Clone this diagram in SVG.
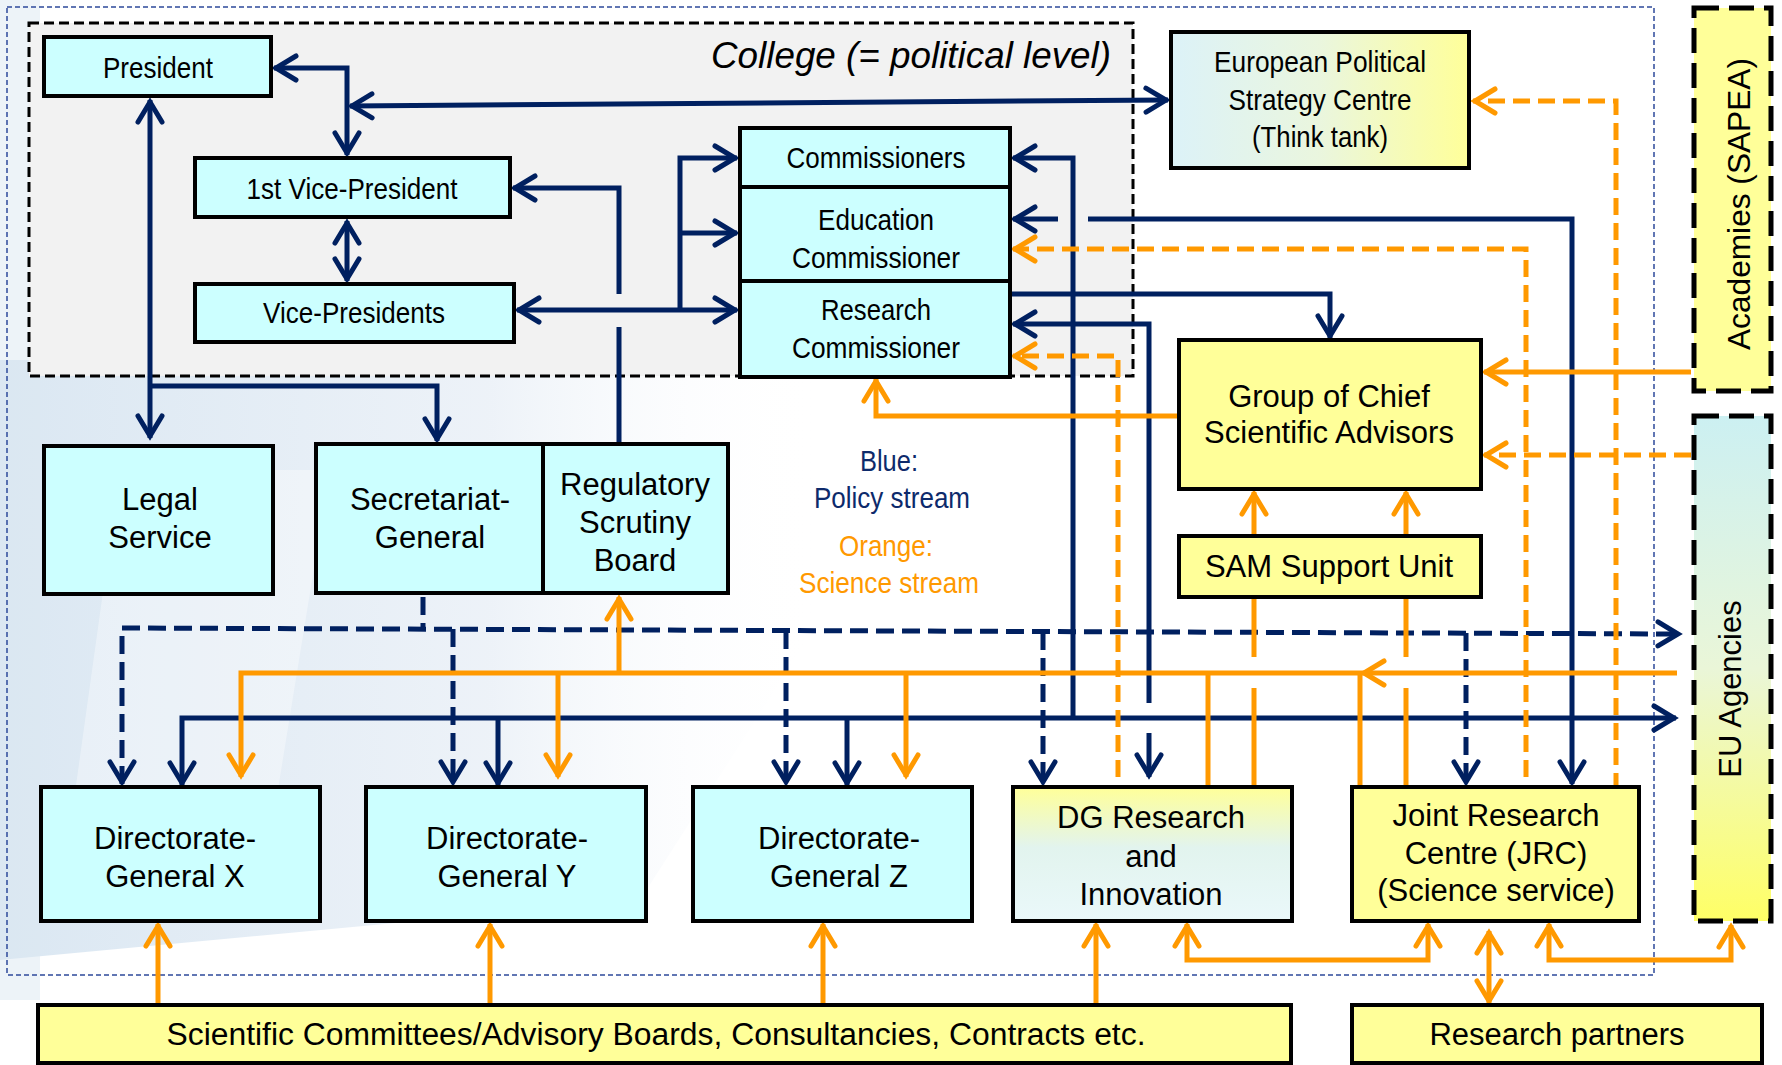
<svg xmlns="http://www.w3.org/2000/svg" width="1782" height="1065" viewBox="0 0 1782 1065">
<defs>
<style>
.box{stroke:#000;stroke-width:4}
.cy{fill:#ccffff}
.ye{fill:#ffff99}
.t{font-family:"Liberation Sans",Arial,sans-serif;font-size:31px;fill:#000;text-anchor:middle}
.n{font-family:"Liberation Sans Narrow","Liberation Sans",Arial,sans-serif;font-size:30px;fill:#000;text-anchor:middle}
.bl{fill:none;stroke:#002060;stroke-width:5}
.bd{fill:none;stroke:#002060;stroke-width:5;stroke-dasharray:18 8}
.or{fill:none;stroke:#ff9900;stroke-width:5}
.od{fill:none;stroke:#ff9900;stroke-width:5;stroke-dasharray:17 8}
.ab{marker-end:url(#ab)}
.abs{marker-start:url(#ab)}
.ao{marker-end:url(#ao)}
.aos{marker-start:url(#ao)}
</style>
<marker id="ab" viewBox="-30 -20 40 40" refX="0" refY="0" markerWidth="40" markerHeight="40" markerUnits="userSpaceOnUse" orient="auto-start-reverse">
<path d="M-22,-12 L-2,0 L-22,12" fill="none" stroke="#002060" stroke-width="5" stroke-linecap="round"/>
</marker>
<marker id="ao" viewBox="-30 -20 40 40" refX="0" refY="0" markerWidth="40" markerHeight="40" markerUnits="userSpaceOnUse" orient="auto-start-reverse">
<path d="M-22,-12 L-2,0 L-22,12" fill="none" stroke="#ff9900" stroke-width="5" stroke-linecap="round"/>
</marker>
<linearGradient id="gEpsc" x1="0" y1="0" x2="1" y2="0">
<stop offset="0" stop-color="#dcf2f8"/>
<stop offset="0.5" stop-color="#eaf6de"/>
<stop offset="1" stop-color="#ffff99"/>
</linearGradient>
<linearGradient id="gDg" x1="0" y1="0" x2="0" y2="1">
<stop offset="0" stop-color="#ffff99"/>
<stop offset="0.45" stop-color="#e2f4ee"/>
<stop offset="1" stop-color="#eaf8fa"/>
</linearGradient>
<linearGradient id="gEu" x1="0" y1="0" x2="0" y2="1">
<stop offset="0" stop-color="#ccf0f2"/>
<stop offset="0.5" stop-color="#eaf6d8"/>
<stop offset="1" stop-color="#ffff66"/>
</linearGradient>
<linearGradient id="gBg" x1="0" y1="0" x2="1" y2="0">
<stop offset="0" stop-color="#d4e3f0"/>
<stop offset="0.6" stop-color="#eaf0f7"/>
<stop offset="1" stop-color="#ffffff" stop-opacity="0"/>
</linearGradient>
</defs>

<rect x="0" y="0" width="1782" height="1065" fill="#ffffff"/>
<g id="background">
<path d="M0,360 L820,360 L820,620 L640,900 L0,960 Z" fill="url(#gBg)" opacity="0.85"/>
<path d="M120,470 L330,470 L260,900 L60,900 Z" fill="#ffffff" opacity="0.35"/>
<path d="M0,0 L40,0 L40,1000 L0,1000 Z" fill="#dbe7f2" opacity="0.5"/>
</g>

<rect id="outer-frame" x="7" y="7" width="1647" height="968" fill="none" stroke="#2e4a9a" stroke-width="1.5" stroke-dasharray="5 3"/>

<g id="college">
<rect x="29" y="23" width="1104" height="353" fill="#f2f2f2" stroke="#000" stroke-width="3" stroke-dasharray="10 5"/>
<text x="1111" y="68" font-family="Liberation Sans, Arial, sans-serif" font-size="36" font-style="italic" text-anchor="end" textLength="400" lengthAdjust="spacingAndGlyphs">College (= political level)</text>
</g>

<g id="connectors">
<!-- blue policy stream -->
<path class="bl abs ab" d="M274,68 H347 V155"/>
<path class="bl abs ab" d="M350,106 L1168,100"/>
<path class="bl abs ab" d="M347,221 V281"/>
<path class="bl abs ab" d="M150,100 V438"/>
<path class="bl ab" d="M150,386 H437 V441"/>
<path class="bl" d="M619,443 V327"/>
<path class="bl ab" d="M619,294 V188 H513"/>
<path class="bl abs ab" d="M517,310 H737"/>
<path class="bl ab" d="M680,310 V158 H737"/>
<path class="bl ab" d="M680,233 H737"/>
<path class="bl ab" d="M1073,718 V158 H1013"/>
<path class="bl abs" d="M1013,219 H1058"/>
<path class="bl ab" d="M1088,219 H1572 V784"/>
<path class="bl ab" d="M1012,294 H1330 V338"/>
<path class="bl abs" d="M1013,324 H1149 V703"/>
<path class="bl ab" d="M1149,733 V777"/>
<path class="bl abs ab" d="M182,785 V718 H1676"/>
<path class="bl ab" d="M498,718 V785"/>
<path class="bl ab" d="M847,718 V785"/>
<!-- blue dashed -->
<path class="bd" d="M423,597 V629"/>
<path class="bd abs ab" d="M122,784 V628 L1680,634"/>
<path class="bd ab" d="M453,629 V784"/>
<path class="bd ab" d="M786,631 V784"/>
<path class="bd ab" d="M1043,632 V784"/>
<path class="bd ab" d="M1466,633 V784"/>
<!-- orange science stream -->
<path class="or ab ao" d="M1179,416 H876 V379"/>
<path class="or ao" d="M1691,372 H1484"/>
<path class="or ao" d="M1677,673 H1362"/>
<path class="or ao" d="M1362,673 H241 V777"/>
<path class="or ao" d="M558,673 V777"/>
<path class="or ao" d="M906,673 V777"/>
<path class="or ao" d="M619,673 V597"/>
<path class="or" d="M1208,787 V673"/>
<path class="or" d="M1360,787 V673"/>
<path class="or" d="M1254,787 V688 M1254,657 V597"/>
<path class="or ao" d="M1254,536 V492"/>
<path class="or" d="M1406,787 V688 M1406,657 V597"/>
<path class="or ao" d="M1406,536 V492"/>
<path class="or ao" d="M158,1005 V924"/>
<path class="or ao" d="M490,1005 V924"/>
<path class="or ao" d="M823,1005 V924"/>
<path class="or ao" d="M1096,1005 V924"/>
<path class="or aos ao" d="M1187,924 V960 H1428 V924"/>
<path class="or aos ao" d="M1549,924 V960 H1731 V925"/>
<path class="or aos ao" d="M1489,931 V1003"/>
<!-- orange dashed -->
<path class="od ao" d="M1616,790 V101 H1473"/>
<path class="od ao" d="M1526,777 V249 H1013"/>
<path class="od ao" d="M1118,777 V356 H1013"/>
<path class="od ao" d="M1691,455 H1484"/>
</g>

<g id="president">
<rect class="box cy" x="44" y="37" width="227" height="59"/>
<text class="n" x="158" y="78" textLength="110" lengthAdjust="spacingAndGlyphs">President</text>
</g>
<g id="first-vice-president">
<rect class="box cy" x="195" y="158" width="315" height="59"/>
<text class="n" x="352" y="199" textLength="211" lengthAdjust="spacingAndGlyphs">1st Vice-President</text>
</g>
<g id="vice-presidents">
<rect class="box cy" x="195" y="284" width="319" height="58"/>
<text class="n" x="354" y="323" textLength="182" lengthAdjust="spacingAndGlyphs">Vice-Presidents</text>
</g>
<g id="commissioners">
<rect class="box cy" x="740" y="128" width="270" height="59" stroke-width="4.5"/>
<text class="n" x="876" y="168" textLength="179" lengthAdjust="spacingAndGlyphs">Commissioners</text>
</g>
<g id="education-commissioner">
<rect class="box cy" x="740" y="187" width="270" height="94" stroke-width="4.5"/>
<text class="n" x="876" y="230" textLength="116" lengthAdjust="spacingAndGlyphs">Education</text>
<text class="n" x="876" y="268" textLength="168" lengthAdjust="spacingAndGlyphs">Commissioner</text>
</g>
<g id="research-commissioner">
<rect class="box cy" x="740" y="281" width="270" height="96" stroke-width="4.5"/>
<text class="n" x="876" y="320" textLength="110" lengthAdjust="spacingAndGlyphs">Research</text>
<text class="n" x="876" y="358" textLength="168" lengthAdjust="spacingAndGlyphs">Commissioner</text>
</g>
<g id="epsc">
<rect class="box" x="1171" y="32" width="298" height="136" fill="url(#gEpsc)"/>
<text class="n" x="1320" y="72" textLength="212" lengthAdjust="spacingAndGlyphs">European Political</text>
<text class="n" x="1320" y="110" textLength="183" lengthAdjust="spacingAndGlyphs">Strategy Centre</text>
<text class="n" x="1320" y="147" textLength="136" lengthAdjust="spacingAndGlyphs">(Think tank)</text>
</g>
<g id="academies">
<rect x="1694" y="8" width="77" height="383" fill="#ffff99" stroke="#000" stroke-width="5" stroke-dasharray="25 10"/>
<text class="t" transform="translate(1750,204) rotate(-90)" font-size="32" textLength="292" lengthAdjust="spacingAndGlyphs">Academies (SAPEA)</text>
</g>
<g id="eu-agencies">
<rect x="1694" y="416" width="77" height="505" fill="url(#gEu)" stroke="#000" stroke-width="5" stroke-dasharray="25 10"/>
<text class="t" transform="translate(1741,689) rotate(-90)" font-size="31">EU Agencies</text>
</g>
<g id="legal-service">
<rect class="box cy" x="44" y="446" width="229" height="148"/>
<text class="t" x="160" y="510">Legal</text>
<text class="t" x="160" y="548">Service</text>
</g>
<g id="secretariat-general">
<rect class="box cy" x="316" y="444" width="227" height="149"/>
<text class="t" x="430" y="510" font-size="31.5">Secretariat-</text>
<text class="t" x="430" y="548" font-size="31.5">General</text>
</g>
<g id="regulatory-scrutiny-board">
<rect class="box cy" x="543" y="444" width="185" height="149"/>
<text class="t" x="635" y="495">Regulatory</text>
<text class="t" x="635" y="533">Scrutiny</text>
<text class="t" x="635" y="571">Board</text>
</g>
<g id="legend">
<text class="n" x="889" y="471" fill="#0d2a6b" style="fill:#0d2a6b" font-size="29" textLength="58" lengthAdjust="spacingAndGlyphs">Blue:</text>
<text class="n" x="892" y="508" style="fill:#0d2a6b" font-size="29" textLength="156" lengthAdjust="spacingAndGlyphs">Policy stream</text>
<text class="n" x="886" y="556" style="fill:#ff9900" font-size="29" textLength="94" lengthAdjust="spacingAndGlyphs">Orange:</text>
<text class="n" x="889" y="593" style="fill:#ff9900" font-size="29" textLength="180" lengthAdjust="spacingAndGlyphs">Science stream</text>
</g>
<g id="gcsa">
<rect class="box ye" x="1179" y="340" width="302" height="149"/>
<text class="t" x="1329" y="407" font-size="31.5">Group of Chief</text>
<text class="t" x="1329" y="443" font-size="31.5">Scientific Advisors</text>
</g>
<g id="sam-support-unit">
<rect class="box ye" x="1179" y="536" width="302" height="61"/>
<text class="t" x="1329" y="577" font-size="32">SAM Support Unit</text>
</g>
<g id="dg-x">
<rect class="box cy" x="41" y="787" width="279" height="134"/>
<text class="t" x="175" y="849" font-size="31.5">Directorate-</text>
<text class="t" x="175" y="887" font-size="31.5">General X</text>
</g>
<g id="dg-y">
<rect class="box cy" x="366" y="787" width="280" height="134"/>
<text class="t" x="507" y="849" font-size="31.5">Directorate-</text>
<text class="t" x="507" y="887" font-size="31.5">General Y</text>
</g>
<g id="dg-z">
<rect class="box cy" x="693" y="787" width="279" height="134"/>
<text class="t" x="839" y="849" font-size="31.5">Directorate-</text>
<text class="t" x="839" y="887" font-size="31.5">General Z</text>
</g>
<g id="dg-research-innovation">
<rect class="box" x="1013" y="787" width="279" height="134" fill="url(#gDg)"/>
<text class="t" x="1151" y="828" font-size="31.5">DG Research</text>
<text class="t" x="1151" y="867" font-size="31.5">and</text>
<text class="t" x="1151" y="905" font-size="31.5">Innovation</text>
</g>
<g id="jrc">
<rect class="box ye" x="1352" y="787" width="287" height="134"/>
<text class="t" x="1496" y="826" font-size="32">Joint Research</text>
<text class="t" x="1496" y="864" font-size="32">Centre (JRC)</text>
<text class="t" x="1496" y="901" font-size="32">(Science service)</text>
</g>
<g id="scientific-committees">
<rect class="box ye" x="38" y="1005" width="1253" height="58"/>
<text class="t" x="656" y="1045" textLength="979" lengthAdjust="spacingAndGlyphs">Scientific Committees/Advisory Boards, Consultancies, Contracts etc.</text>
</g>
<g id="research-partners">
<rect class="box ye" x="1352" y="1005" width="410" height="58"/>
<text class="t" x="1557" y="1045" font-size="32">Research partners</text>
</g>
</svg>
